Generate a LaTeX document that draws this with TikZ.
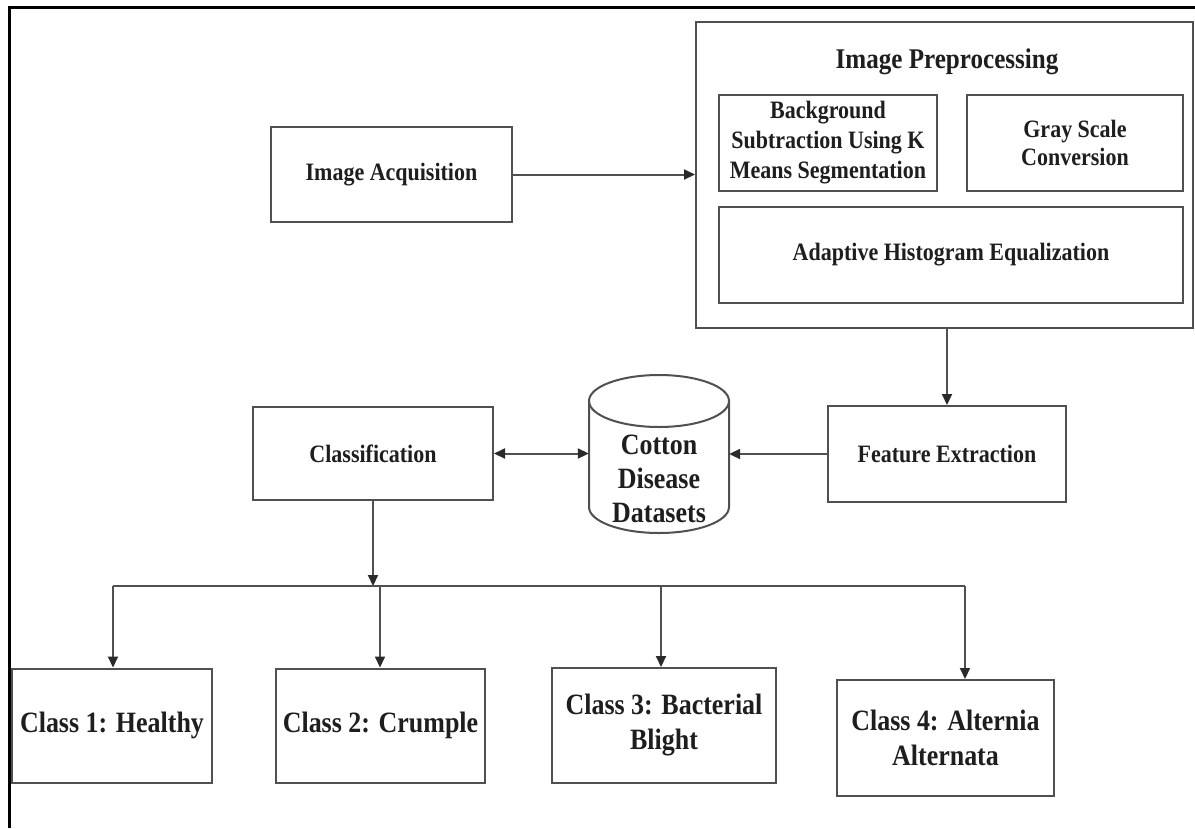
\documentclass[tikz,border=0pt]{standalone}
\usepackage{fontspec}
\setmainfont{Liberation Serif}[FakeStretch=0.88]
\usetikzlibrary{arrows.meta}
\definecolor{boxc}{HTML}{505050}
\definecolor{tipc}{HTML}{2A2A2A}
\definecolor{txtc}{HTML}{1E1E1E}
\tikzset{
  base/.style={inner sep=0pt, align=center, text=txtc},
  box/.style={base, draw=boxc, line width=2pt},
  nfont/.style={font=\fontsize{25}{30}\selectfont\bfseries},
  lfont/.style={font=\fontsize{29.5}{35}\selectfont\bfseries},
  tfont/.style={font=\fontsize{28.5}{34}\selectfont\bfseries},
  conn/.style={draw=boxc, line width=2pt},
  tip/.tip={Triangle[length=11pt,width=10pt,color=tipc]},
  arr/.style={conn, -tip},
  darr/.style={conn, tip-tip},
}
\begin{document}
\begin{tikzpicture}[x=1pt,y=-1pt]
\useasboundingbox (0,0) rectangle (1195,828);
\fill[white] (0,0) rectangle (1195,828);
% frame
\draw[line width=3pt, black] (9,828) -- (9,7) -- (1195,7);

% image acquisition
\node[box, nfont, minimum width=241pt, minimum height=95pt] (acq) at (391.5,174.5) {Image Acquisition};

% preprocessing
\node[box, minimum width=497pt, minimum height=306pt] (pre) at (944.5,175) {};
\node[base, tfont] (pretitle) at (947,62) {Image Preprocessing};
\node[box, nfont, minimum width=218pt, minimum height=96pt] (bg) at (828,143) {Background\\Subtraction Using K\\Means Segmentation};
\node[box, nfont, font=\fontsize{25}{28}\selectfont\bfseries, minimum width=216pt, minimum height=96pt] (gray) at (1075,143) {Gray Scale\\Conversion};
\node[box, nfont, minimum width=464pt, minimum height=96pt] (ahe) at (951,255) {Adaptive Histogram Equalization};

% feature extraction
\node[box, nfont, minimum width=238pt, minimum height=96pt] (feat) at (947,454) {Feature Extraction};

% classification
\node[box, nfont, minimum width=240pt, minimum height=93pt] (cls) at (373,453.5) {Classification};

% database cylinder
\draw[boxc, line width=2pt, fill=white] (589,401) -- (589,507) arc[start angle=180, end angle=360, x radius=70pt, y radius=26pt] -- (729,401);
\draw[boxc, line width=2pt] (659,401) ellipse[x radius=70pt, y radius=26pt];
\node[base, minimum width=140pt, minimum height=158pt] (db) at (659,454) {};
\node[base, lfont, font=\fontsize{29.5}{34}\selectfont\bfseries] (dbtext) at (659,479) {Cotton\\Disease\\Datasets};

% classes
\node[box, lfont, minimum width=200pt, minimum height=114pt] (c1) at (112,725.5) {Class 1: Healthy};
\node[box, lfont, minimum width=209pt, minimum height=114pt] (c2) at (380.5,725.5) {Class 2: Crumple};
\node[box, lfont, minimum width=224pt, minimum height=115pt] (c3) at (664,725.5) {Class 3: Bacterial\\Blight};
\node[box, lfont, minimum width=217pt, minimum height=116pt] (c4) at (945.5,738) {Class 4: Alternia\\Alternata};

% connectors
\draw[arr] (acq.east) -- (acq.east -| pre.west);
\draw[arr] (pre.south -| feat.north) -- (feat.north);
\draw[arr] (feat.west) -- (db.east);
\draw[darr] (cls.east) -- (cls.east -| db.west);

\coordinate (br) at (374,586);
\coordinate (b1) at (113,586);
\coordinate (b2) at (380,586);
\coordinate (b3) at (661,586);
\coordinate (b4) at (965,586);
\draw[arr] (cls.south) -- (cls.south |- br);
\draw[conn] (b1) -- (b4);
\draw[arr] (b1) -- (b1 |- c1.north);
\draw[arr] (b2) -- (b2 |- c2.north);
\draw[arr] (b3) -- (b3 |- c3.north);
\draw[arr] (b4) -- (b4 |- c4.north);
\end{tikzpicture}
\end{document}
